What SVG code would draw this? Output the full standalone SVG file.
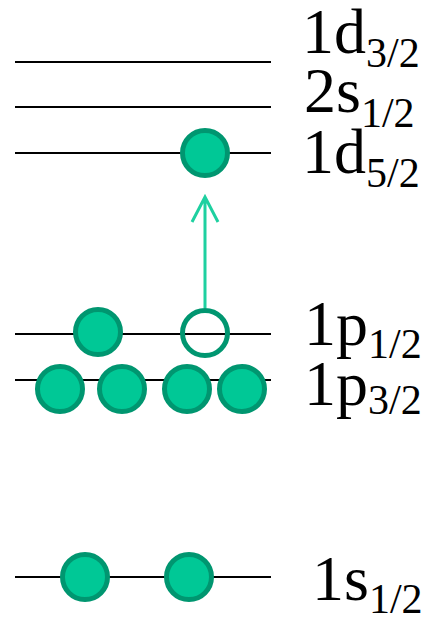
<svg xmlns="http://www.w3.org/2000/svg" width="431" height="620" viewBox="0 0 431 620">
<style>
.lvl{stroke:#000;stroke-width:2;fill:none}
.p{fill:#00c896;stroke:#009670;stroke-width:5}
.h{fill:none;stroke:#009670;stroke-width:5}
.lab{font-family:"Liberation Serif","Times New Roman",serif;font-size:64px;fill:#000}
.sub{font-size:42px}
.arr{stroke:#1ed0a0;stroke-width:3;fill:none}
</style>
<rect width="431" height="620" fill="#fff"/>
<g id="levels">
<line class="lvl" x1="15" y1="62" x2="271" y2="62"/>
<line class="lvl" x1="15" y1="107" x2="271" y2="107"/>
<line class="lvl" x1="15" y1="153" x2="271" y2="153"/>
<line class="lvl" x1="15" y1="334" x2="271" y2="334"/>
<line class="lvl" x1="15" y1="380" x2="271" y2="380"/>
<line class="lvl" x1="15" y1="577" x2="271" y2="577"/>
</g>
<g id="connectors">
<path class="arr" d="M205 308 V197 M192 222 L205 197 L218 222"/>
</g>
<g id="particles">
<circle class="p" cx="205" cy="153" r="22.5"/>
<circle class="p" cx="98" cy="332" r="22.5"/>
<circle class="h" cx="205" cy="333" r="22.5"/>
<circle class="p" cx="60" cy="389" r="22.5"/>
<circle class="p" cx="122" cy="389" r="22.5"/>
<circle class="p" cx="187" cy="389" r="22.5"/>
<circle class="p" cx="242" cy="389" r="22.5"/>
<circle class="p" cx="85" cy="577" r="22.5"/>
<circle class="p" cx="189" cy="577" r="22.5"/>
</g>
<g id="labels">
<text class="lab" x="302" y="53">1d<tspan class="sub" y="67">3/2</tspan></text>
<text class="lab" x="304" y="112">2s<tspan class="sub" y="127">1/2</tspan></text>
<text class="lab" x="302" y="173">1d<tspan class="sub" y="187">5/2</tspan></text>
<text class="lab" x="304" y="345">1p<tspan class="sub" y="358">1/2</tspan></text>
<text class="lab" x="304" y="405">1p<tspan class="sub" y="414">3/2</tspan></text>
<text class="lab" x="312" y="600">1s<tspan class="sub" y="613">1/2</tspan></text>
</g>
</svg>
